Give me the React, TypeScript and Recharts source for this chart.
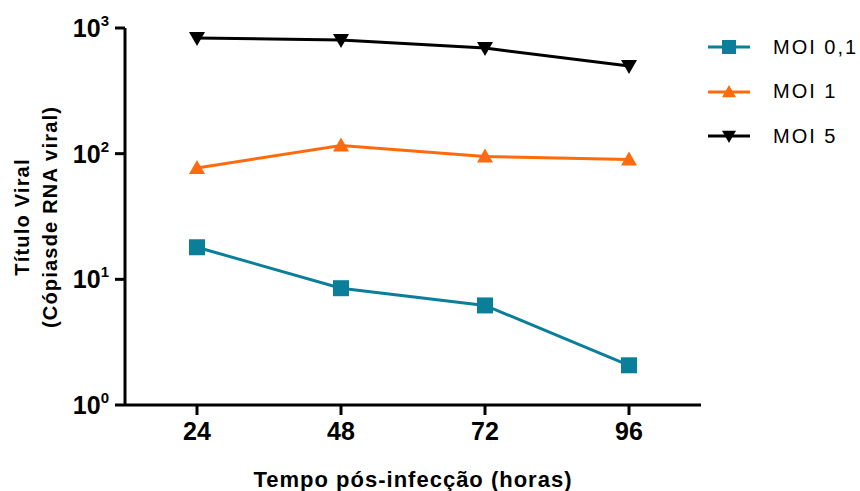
import React from 'react'
import { Line, LineChart, XAxis, YAxis } from 'recharts'

// hours post infection
const hours = [24, 48, 72, 96]
// viral titre (RNA copies)
const moi01 = [18, 8.5, 6.2, 2.07]
const moi1 = [77, 116, 95, 90]
const moi5 = [832, 803, 693, 498]

const xTicks = [24, 48, 72, 96]
const yTicks = [1, 10, 100, 1000]

const series = [
  { key: 'moi01', name: 'MOI 0,1', color: '#0b7f99', shape: 'square' },
  { key: 'moi1', name: 'MOI 1', color: '#ff6a0d', shape: 'up' },
  { key: 'moi5', name: 'MOI 5', color: '#000000', shape: 'down' },
]

const data = hours.map((h, i) => ({ h, moi01: moi01[i], moi1: moi1[i], moi5: moi5[i] }))

const FONT = 'Arial, "Liberation Sans", Helvetica, sans-serif'

function Marker({ cx, cy, shape, color, s = 8 }: any) {
  if (cx == null || cy == null) return null
  if (shape === 'square') return <rect x={cx - s} y={cy - s} width={s * 2} height={s * 2} fill={color} />
  if (shape === 'up')
    return <polygon points={`${cx},${cy - s} ${cx + s},${cy + s * 0.75} ${cx - s},${cy + s * 0.75}`} fill={color} />
  return <polygon points={`${cx - s},${cy - s * 0.75} ${cx + s},${cy - s * 0.75} ${cx},${cy + s}`} fill={color} />
}

function YTick({ x, y, payload }: any) {
  const exp = Math.round(Math.log10(payload.value))
  return (
    <text x={x - 4} y={y + 9} textAnchor="end" fontFamily={FONT} fontWeight="bold" fill="#000">
      <tspan fontSize={25}>10</tspan>
      <tspan fontSize={15} dy={-11}>{exp}</tspan>
    </text>
  )
}

function YLabel() {
  return (
    <g transform="translate(36,217) rotate(-90)">
      <text textAnchor="middle" fontFamily={FONT} fontWeight="bold" fontSize={20} letterSpacing={1.2} fill="#000">
        <tspan x={0} y={-7}>Título Viral</tspan>
        <tspan x={0} y={21}>(Cópiasde RNA viral)</tspan>
      </text>
    </g>
  )
}

// legend is drawn beside the plot so it does not eat into the plot width
function LegendBox() {
  return (
    <div
      style={{
        position: 'absolute',
        left: 700,
        top: 25,
        fontFamily: FONT,
        fontSize: 20,
        letterSpacing: 2,
        color: '#000',
      }}
    >
      {series.map((s) => (
        <div key={s.key} style={{ display: 'flex', alignItems: 'center', height: 44.5 }}>
          <svg width={60} height={20}>
            <line x1={8} x2={50} y1={10} y2={10} stroke={s.color} strokeWidth={3} />
            <Marker cx={29} cy={10} shape={s.shape} color={s.color} s={7} />
          </svg>
          <span style={{ marginLeft: 13 }}>{s.name}</span>
        </div>
      ))}
    </div>
  )
}

export default function App() {
  return (
    <div style={{ position: 'absolute', left: 0, top: 0, width: 860, height: 491, background: '#fff' }}>
      <LineChart width={860} height={491} data={data} margin={{ top: 28, right: 159, bottom: 0, left: 0 }}>
        <XAxis
          dataKey="h"
          type="number"
          domain={[12, 108]}
          ticks={xTicks}
          height={86}
          tickSize={10}
          axisLine={{ stroke: '#000', strokeWidth: 3 }}
          tickLine={{ stroke: '#000', strokeWidth: 3 }}
          tick={{ fill: '#000', fontSize: 25, fontWeight: 'bold', fontFamily: FONT, dy: 5 }}
          label={{
            value: 'Tempo pós-infecção (horas)',
            position: 'insideBottom',
            offset: 4,
            style: { fill: '#000', fontSize: 22, fontWeight: 'bold', fontFamily: FONT, letterSpacing: 1 },
          }}
        />
        <YAxis
          type="number"
          scale="log"
          domain={[1, 1000]}
          ticks={yTicks}
          allowDataOverflow
          width={125}
          tickSize={10}
          axisLine={{ stroke: '#000', strokeWidth: 3 }}
          tickLine={{ stroke: '#000', strokeWidth: 3 }}
          tick={<YTick />}
          label={{ content: <YLabel /> }}
        />
        {series.map((s) => (
          <Line
            key={s.key}
            dataKey={s.key}
            name={s.name}
            stroke={s.color}
            strokeWidth={3}
            isAnimationActive={false}
            dot={(p: any) => <Marker key={`${s.key}-${p.index}`} cx={p.cx} cy={p.cy} shape={s.shape} color={s.color} />}
            activeDot={false}
          />
        ))}
      </LineChart>
      <LegendBox />
    </div>
  )
}
